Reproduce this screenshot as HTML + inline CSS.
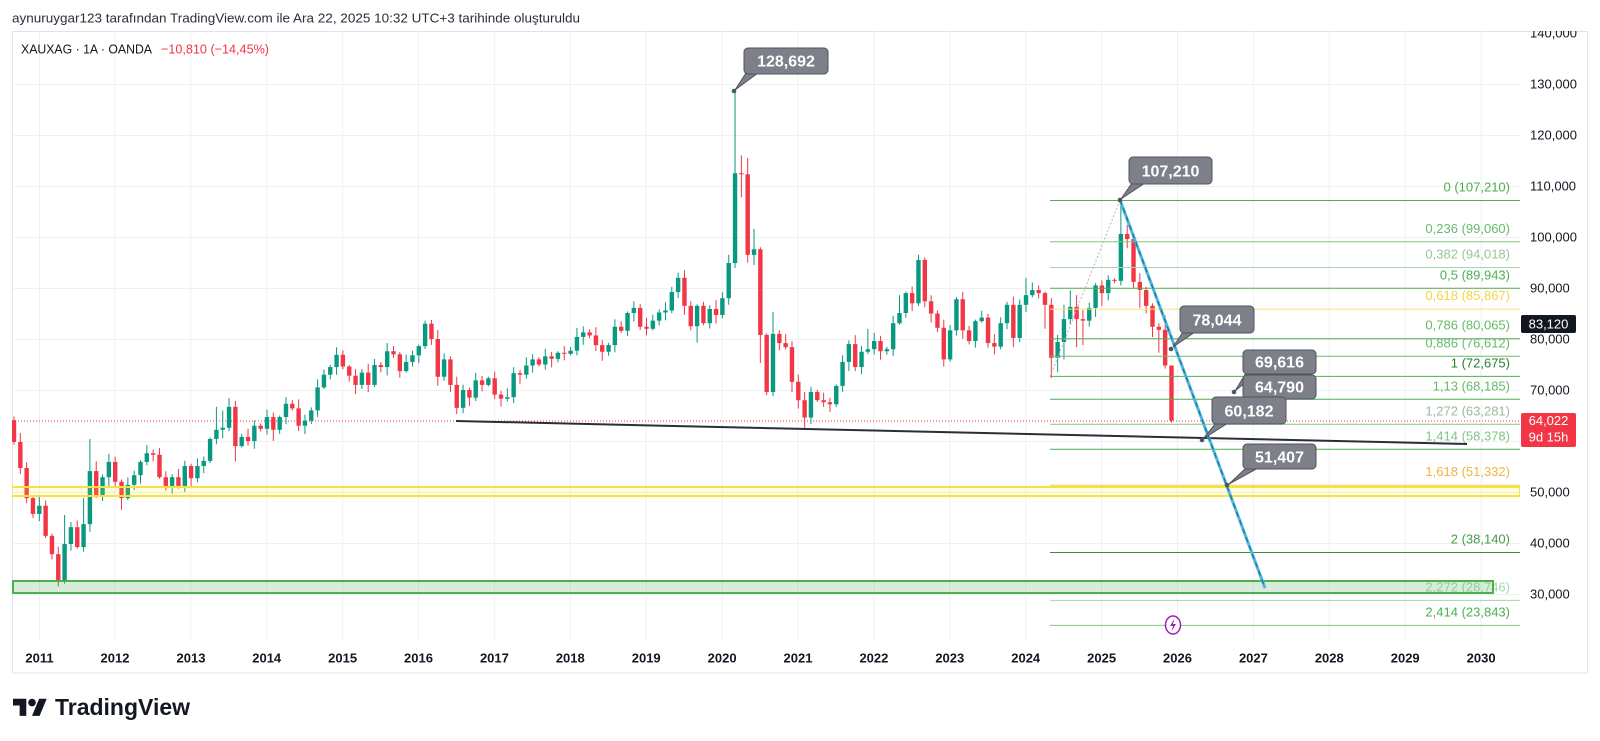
<!DOCTYPE html>
<html><head><meta charset="utf-8">
<style>
html,body{margin:0;padding:0;background:#fff;}
svg{display:block;font-family:"Liberation Sans",Arial,sans-serif;}
</style></head>
<body>
<svg id="s" width="1600" height="741" viewBox="0 0 1600 741" xmlns="http://www.w3.org/2000/svg">
<defs>
<clipPath id="plot"><rect x="12" y="31" width="1508" height="610"/></clipPath>
<clipPath id="box"><rect x="12" y="31" width="1575" height="642"/></clipPath>
</defs>
<rect x="0" y="0" width="1600" height="741" fill="#fff"/>
<!-- header -->
<text x="12" y="22.5" font-size="13" fill="#2a2e39" textLength="568" lengthAdjust="spacingAndGlyphs">aynuruygar123 tarafından TradingView.com ile Ara 22, 2025 10:32 UTC+3 tarihinde oluşturuldu</text>
<!-- chart box -->
<rect x="12.5" y="31.5" width="1575" height="641.5" fill="#fff" stroke="#e0e3eb" stroke-width="1"/>
<g clip-path="url(#plot)" stroke="#eef0f4" stroke-width="1">
<line x1="12" x2="1520" y1="84.5" y2="84.5"/><line x1="12" x2="1520" y1="135.5" y2="135.5"/>
<line x1="12" x2="1520" y1="186.5" y2="186.5"/><line x1="12" x2="1520" y1="237.5" y2="237.5"/>
<line x1="12" x2="1520" y1="288.5" y2="288.5"/><line x1="12" x2="1520" y1="339.5" y2="339.5"/>
<line x1="12" x2="1520" y1="390.5" y2="390.5"/><line x1="12" x2="1520" y1="441.5" y2="441.5"/>
<line x1="12" x2="1520" y1="492.5" y2="492.5"/><line x1="12" x2="1520" y1="543.5" y2="543.5"/>
<line x1="12" x2="1520" y1="594.5" y2="594.5"/>
<line y1="31" y2="641" x1="39.5" x2="39.5"/><line y1="31" y2="641" x1="115" x2="115"/>
<line y1="31" y2="641" x1="191" x2="191"/><line y1="31" y2="641" x1="266.7" x2="266.7"/>
<line y1="31" y2="641" x1="342.6" x2="342.6"/><line y1="31" y2="641" x1="418.5" x2="418.5"/>
<line y1="31" y2="641" x1="494.4" x2="494.4"/><line y1="31" y2="641" x1="570.3" x2="570.3"/>
<line y1="31" y2="641" x1="646.2" x2="646.2"/><line y1="31" y2="641" x1="722.1" x2="722.1"/>
<line y1="31" y2="641" x1="798" x2="798"/><line y1="31" y2="641" x1="873.9" x2="873.9"/>
<line y1="31" y2="641" x1="949.8" x2="949.8"/><line y1="31" y2="641" x1="1025.7" x2="1025.7"/>
<line y1="31" y2="641" x1="1101.6" x2="1101.6"/><line y1="31" y2="641" x1="1177.5" x2="1177.5"/>
<line y1="31" y2="641" x1="1253.4" x2="1253.4"/><line y1="31" y2="641" x1="1329.3" x2="1329.3"/>
<line y1="31" y2="641" x1="1405.2" x2="1405.2"/><line y1="31" y2="641" x1="1481.1" x2="1481.1"/>
</g>
<!-- symbol line -->
<text x="21" y="53.5" font-size="13" fill="#131722" textLength="131" lengthAdjust="spacingAndGlyphs">XAUXAG · 1A · OANDA</text>
<text x="161" y="53.5" font-size="13" fill="#f23645" textLength="108" lengthAdjust="spacingAndGlyphs">−10,810 (−14,45%)</text>

<g clip-path="url(#plot)">
<!-- last price dotted line -->
<line x1="12" x2="1520" y1="421" y2="421" stroke="#f23645" stroke-width="1" stroke-dasharray="1,2"/>
<g id="candles"></g>
<!-- fib lines -->
<g stroke-width="1">
<line x1="1050" x2="1520" y1="200.5" y2="200.5" stroke="#4caf50"/>
<line x1="1050" x2="1520" y1="241.8" y2="241.8" stroke="#81c784"/>
<line x1="1050" x2="1520" y1="267.5" y2="267.5" stroke="#a5d6a7"/>
<line x1="1050" x2="1520" y1="288.3" y2="288.3" stroke="#4caf50"/>
<line x1="1050" x2="1520" y1="309.1" y2="309.1" stroke="#fbe26a"/>
<line x1="1050" x2="1520" y1="338.7" y2="338.7" stroke="#4caf50"/>
<line x1="1050" x2="1520" y1="356.3" y2="356.3" stroke="#66bb6a"/>
<line x1="1050" x2="1520" y1="376.4" y2="376.4" stroke="#4caf50"/>
<line x1="1050" x2="1520" y1="399.3" y2="399.3" stroke="#4caf50"/>
<line x1="1050" x2="1520" y1="424.3" y2="424.3" stroke="#81c784"/>
<line x1="1050" x2="1520" y1="449.3" y2="449.3" stroke="#4caf50"/>
<line x1="1050" x2="1520" y1="485.2" y2="485.2" stroke="#f7c948"/>
<line x1="1050" x2="1520" y1="552.5" y2="552.5" stroke="#388e3c"/>
<line x1="1050" x2="1520" y1="600.4" y2="600.4" stroke="#a5d6a7"/>
<line x1="1050" x2="1520" y1="625.4" y2="625.4" stroke="#81c784"/>
</g>
<g font-size="13" text-anchor="end">
<text x="1510" y="191.5" fill="#4caf50">0 (107,210)</text>
<text x="1510" y="232.8" fill="#66bb6a">0,236 (99,060)</text>
<text x="1510" y="258.5" fill="#94c897">0,382 (94,018)</text>
<text x="1510" y="279.3" fill="#4caf50">0,5 (89,943)</text>
<text x="1510" y="300.1" fill="#f5d442">0,618 (85,867)</text>
<text x="1510" y="329.7" fill="#66bb6a">0,786 (80,065)</text>
<text x="1510" y="347.3" fill="#66bb6a">0,886 (76,612)</text>
<text x="1510" y="367.4" fill="#2e7d32">1 (72,675)</text>
<text x="1510" y="390.3" fill="#66bb6a">1,13 (68,185)</text>
<text x="1510" y="415.3" fill="#9fb89f">1,272 (63,281)</text>
<text x="1510" y="440.3" fill="#81c784">1,414 (58,378)</text>
<text x="1510" y="476.2" fill="#f2b33d">1,618 (51,332)</text>
<text x="1510" y="543.5" fill="#43a047">2 (38,140)</text>
<text x="1510" y="591.4" fill="#a5d6a7">2,272 (28,746)</text>
<text x="1510" y="616.4" fill="#4caf50">2,414 (23,843)</text>
</g>
<!-- yellow band -->
<rect x="8" y="487" width="1512" height="9" fill="rgba(255,235,59,0.15)" stroke="#f7e23a" stroke-width="2"/>
<!-- green rect -->
<rect x="13" y="581" width="1480" height="12" fill="rgba(76,175,80,0.22)" stroke="#4caf50" stroke-width="2"/>
<!-- fib diagonal -->
<line x1="1050" y1="377" x2="1120" y2="200" stroke="#b2b5be" stroke-width="1" stroke-dasharray="2,2"/>
<!-- black trendline -->
<line x1="456" y1="421" x2="1467" y2="444" stroke="#2a2e39" stroke-width="2"/>
<!-- blue trendline -->
<line x1="1120" y1="200" x2="1265" y2="588" stroke="#4cb8d8" stroke-width="3"/>
<line x1="1120" y1="200" x2="1265" y2="588" stroke="#1f6fa3" stroke-width="1.2" stroke-dasharray="5,4"/>
<!-- lightning icon -->
<ellipse cx="1173" cy="625" rx="7.5" ry="9" fill="#fff" stroke="#9c27b0" stroke-width="1.5"/>
<path d="M1174.5 618.5 L1170 626 L1173 626 L1171.5 631.5 L1176 624 L1173 624 Z" fill="#9c27b0"/>
</g>

<!-- callouts -->
<g font-size="16" font-weight="bold" fill="#fff" text-anchor="middle">
<g><polygon points="746,73 758,73 735,90" fill="#7e8089" stroke="#50535e"/><rect x="744" y="48" width="84" height="26" rx="4" fill="#7e8089" stroke="#50535e"/><circle cx="734" cy="91" r="2.3" fill="#50535e"/><text x="786" y="66.5">128,692</text></g>
<g><polygon points="1132,183 1145,183 1121,199" fill="#7e8089" stroke="#50535e"/><rect x="1129" y="157" width="83" height="27" rx="4" fill="#7e8089" stroke="#50535e"/><circle cx="1120" cy="200" r="2.3" fill="#50535e"/><text x="1170.5" y="176.5">107,210</text></g>
<g><polygon points="1183,332 1195,332 1173,347" fill="#7e8089" stroke="#50535e"/><rect x="1180" y="306" width="74" height="27" rx="4" fill="#7e8089" stroke="#50535e"/><circle cx="1171" cy="349" r="2.3" fill="#50535e"/><text x="1217" y="325.5">78,044</text></g>
<g><polygon points="1246,373 1257,373 1235,391" fill="#7e8089" stroke="#50535e"/><rect x="1243" y="350" width="73" height="24" rx="4" fill="#7e8089" stroke="#50535e"/><circle cx="1234" cy="392" r="2.3" fill="#50535e"/><text x="1279.5" y="367.5">69,616</text></g>
<g><rect x="1243" y="375" width="73" height="24" rx="4" fill="#7e8089" stroke="#50535e"/><text x="1279.5" y="392.5">64,790</text></g>
<g><polygon points="1216,423 1228,423 1203,439" fill="#7e8089" stroke="#50535e"/><rect x="1212" y="397" width="74" height="27" rx="4" fill="#7e8089" stroke="#50535e"/><circle cx="1202" cy="440" r="2.3" fill="#50535e"/><text x="1249" y="416.5">60,182</text></g>
<g><polygon points="1246,468 1258,468 1229,484" fill="#7e8089" stroke="#50535e"/><rect x="1243" y="444" width="73" height="25" rx="4" fill="#7e8089" stroke="#50535e"/><circle cx="1227" cy="485" r="2.3" fill="#50535e"/><text x="1279.5" y="462.5">51,407</text></g>
</g>

<!-- price axis -->
<g clip-path="url(#box)" font-size="13" fill="#131722">
<text x="1530" y="37.5">140,000</text>
<text x="1530" y="88.5">130,000</text>
<text x="1530" y="139.5">120,000</text>
<text x="1530" y="190.5">110,000</text>
<text x="1530" y="241.5">100,000</text>
<text x="1530" y="292.5">90,000</text>
<text x="1530" y="343.5">80,000</text>
<text x="1530" y="394.5">70,000</text>
<text x="1530" y="445.5">60,000</text>
<text x="1530" y="496.5">50,000</text>
<text x="1530" y="547.5">40,000</text>
<text x="1530" y="598.5">30,000</text>
</g>
<rect x="1521" y="315" width="55" height="18" rx="2" fill="#131722"/>
<text x="1548.5" y="328.5" font-size="13" fill="#fff" text-anchor="middle">83,120</text>
<rect x="1521" y="413" width="55" height="34" rx="2" fill="#f23645"/>
<text x="1548.5" y="425" font-size="13" fill="#fff" text-anchor="middle">64,022</text>
<text x="1548.5" y="441.5" font-size="13" fill="#fff" text-anchor="middle">9d 15h</text>

<!-- time axis -->
<g font-size="13" font-weight="bold" fill="#131722" text-anchor="middle">
<text x="39.5" y="662.5">2011</text><text x="115" y="662.5">2012</text><text x="191" y="662.5">2013</text>
<text x="266.7" y="662.5">2014</text><text x="342.6" y="662.5">2015</text><text x="418.5" y="662.5">2016</text>
<text x="494.4" y="662.5">2017</text><text x="570.3" y="662.5">2018</text><text x="646.2" y="662.5">2019</text>
<text x="722.1" y="662.5">2020</text><text x="798" y="662.5">2021</text><text x="873.9" y="662.5">2022</text>
<text x="949.8" y="662.5">2023</text><text x="1025.7" y="662.5">2024</text><text x="1101.6" y="662.5">2025</text>
<text x="1177.5" y="662.5">2026</text><text x="1253.4" y="662.5">2027</text><text x="1329.3" y="662.5">2028</text>
<text x="1405.2" y="662.5">2029</text><text x="1481.1" y="662.5">2030</text>
</g>

<!-- TradingView logo -->
<g transform="translate(13,695) scale(0.95)" fill="#131722">
<path d="M14 22H7V11H0V4h14v18zM28 22h-8l7.5-18h8L28 22z"/>
<circle cx="20" cy="8" r="4"/>
</g>
<text x="55" y="715" font-size="23" font-weight="bold" fill="#131722" textLength="135" lengthAdjust="spacingAndGlyphs">TradingView</text>
</svg>
<script>
(function(){
var C=[59.8,54.7,48.8,45.7,
47.3,41.4,37.8,32.7,39.8,43.1,39.2,43.7,54.1,49.4,52.9,55.9,
52.0,48.8,51.4,53.3,55.9,57.6,57.3,52.9,51.2,52.9,51.2,55.1,
52.7,55.1,56.1,60.4,62.2,62.6,66.7,59.0,60.8,60.0,63.0,62.4,
64.7,62.2,64.7,67.3,66.4,63.0,64.0,66.0,70.5,73.0,74.5,76.9,
74.6,72.8,71.0,73.4,71.0,74.9,74.5,77.6,77.0,73.7,75.5,76.8,
78.6,83.0,80.0,72.6,76.0,71.0,66.5,70.0,68.5,71.9,71.0,72.3,
69.1,68.3,68.6,73.3,73.0,74.8,76.0,75.0,76.6,76.1,77.3,77.1,
77.7,80.4,81.3,80.7,78.8,77.5,78.8,82.4,81.6,85.1,86.1,82.4,
82.0,83.6,85.2,85.6,89.2,92.0,86.5,82.5,86.5,83.1,85.9,84.7,
88.0,94.9,112.5,112.3,96.5,97.6,80.8,69.6,81.0,79.2,78.4,71.6,
68.0,64.6,69.6,68.0,67.6,67.2,70.8,75.5,79.0,74.5,77.5,78.0,
79.6,77.6,78.0,83.1,85.1,89.0,87.0,95.5,87.4,85.0,82.2,76.0,
81.7,87.8,81.7,79.6,83.5,84.2,79.2,78.5,83.1,86.7,80.2,86.7,
88.6,89.6,89.0,86.7,76.3,79.4,83.9,86.3,83.9,83.6,86.1,90.5,
89.0,91.6,91.4,100.6,99.6,91.2,89.6,86.5,82.4,81.8,74.8,64.022];
var H={0:{o:64.1,h:64.8},2:{l:47.8},4:{h:49.3},7:{l:31.5},8:{h:45.5},9:{h:44.1},11:{h:48.8},12:{h:60.4},13:{h:56},15:{h:57.5},17:{l:46.5},21:{h:59.2},23:{h:58.6},32:{h:66.7},33:{h:66},35:{l:56},41:{l:60},65:{h:83.6},70:{l:65.3},96:{h:83.5},105:{h:93},106:{h:93.5},108:{l:79.3},109:{h:87.3},113:{h:96.5},114:{h:128.692,l:93.9},115:{h:116,l:107.8},116:{h:115.5},117:{h:101.6,l:94.5},118:{h:98,l:75.3},119:{l:69},120:{h:85.3},123:{l:69.6},124:{h:73},125:{l:62.4},135:{h:82},140:{h:88.6},143:{h:96.5},144:{h:96},160:{h:92},163:{l:82},164:{l:72.35},165:{h:80.8,l:73.5},166:{h:86.7,l:76},167:{h:89.5},168:{h:88.6,l:78.4},169:{h:85.7,l:78.8},172:{h:91.5,l:86.5},175:{h:107.21,l:90.5},176:{h:102.4,l:97.8},177:{h:100,l:89.8},178:{h:92.9,l:86.1},179:{l:85},180:{h:87,l:80.4},181:{h:83.1,l:77.3},182:{h:84.6,l:74.2},183:{h:74.8,l:63.6}};
function Y(v){return 747-5.1*v;}
var s='',prev=64.1;
for(var i=0;i<C.length;i++){
var ov=H[i]||{};
var o=(ov.o!==undefined)?ov.o:prev, c=C[i];
var a=0.3+((i*7+3)%11)/11*1.6, b=0.3+((i*5+2)%13)/13*1.6;
var h=(ov.h!==undefined)?ov.h:Math.max(o,c)+a;
var l=(ov.l!==undefined)?ov.l:Math.min(o,c)-b;
var x=14+6.325*i;
var col=(c>=o)?'#089981':'#f23645';
var yt=Y(Math.max(o,c)), yb=Y(Math.min(o,c));
s+='<line x1="'+x.toFixed(2)+'" x2="'+x.toFixed(2)+'" y1="'+Y(h).toFixed(2)+'" y2="'+Y(l).toFixed(2)+'" stroke="'+col+'" stroke-width="1"/>';
s+='<rect x="'+(x-2.2).toFixed(2)+'" y="'+yt.toFixed(2)+'" width="4.4" height="'+Math.max(1,yb-yt).toFixed(2)+'" fill="'+col+'"/>';
prev=c;
}
document.getElementById('candles').innerHTML=s;
})();
</script>
</body></html>
